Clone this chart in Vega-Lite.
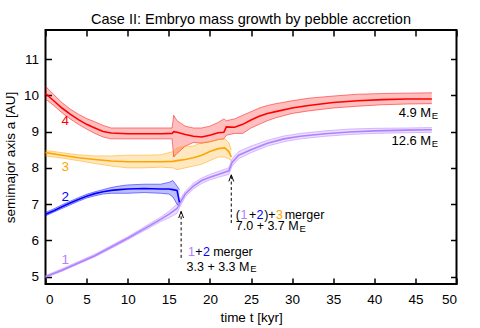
{
 "$schema": "https://vega.github.io/schema/vega-lite/v6.json",
 "width": 411,
 "height": 254,
 "autosize": {"type": "none"},
 "padding": {"left": 45.5, "top": 30, "right": 23.5, "bottom": 44},
 "title": {"text": "Case II: Embryo mass growth by pebble accretion", "font": "Liberation Sans", "fontSize": 14.5, "fontWeight": "normal", "offset": 2, "anchor": "middle", "color": "#000"},
 "config": {
  "view": {"stroke": "#000", "strokeWidth": 2},
  "font": "Liberation Sans",
  "axis": {"grid": false, "domain": false, "tickColor": "#000", "tickWidth": 1.5, "tickSize": -6, "labelFont": "Liberation Sans", "labelFontSize": 13.5, "labelColor": "#000", "titleFont": "Liberation Sans", "titleFontSize": 13.5, "titleFontWeight": "normal", "titleColor": "#000"}
 },
 "datasets": {
  "bands": [
   {"e":"1","t":0,"a":5.0,"lo":4.98,"hi":5.03},
   {"e":"1","t":2,"a":5.18,"lo":5.15,"hi":5.22},
   {"e":"1","t":4,"a":5.38,"lo":5.35,"hi":5.42},
   {"e":"1","t":6,"a":5.58,"lo":5.55,"hi":5.62},
   {"e":"1","t":8,"a":5.82,"lo":5.78,"hi":5.86},
   {"e":"1","t":10,"a":6.06,"lo":6.02,"hi":6.1},
   {"e":"1","t":12,"a":6.32,"lo":6.27,"hi":6.37},
   {"e":"1","t":14,"a":6.58,"lo":6.52,"hi":6.64},
   {"e":"1","t":15,"a":6.72,"lo":6.62,"hi":6.8},
   {"e":"1","t":16,"a":6.88,"lo":6.75,"hi":7.0},
   {"e":"1","t":16.4,"a":7.05,"lo":6.95,"hi":7.15},
   {"e":"1","t":17,"a":7.28,"lo":7.2,"hi":7.35},
   {"e":"1","t":18,"a":7.5,"lo":7.42,"hi":7.58},
   {"e":"1","t":19,"a":7.65,"lo":7.57,"hi":7.72},
   {"e":"1","t":20,"a":7.74,"lo":7.67,"hi":7.82},
   {"e":"1","t":21,"a":7.82,"lo":7.74,"hi":7.9},
   {"e":"1","t":22.3,"a":7.92,"lo":7.82,"hi":8.0},
   {"e":"1","t":22.7,"a":8.15,"lo":8.05,"hi":8.25},
   {"e":"1","t":23.5,"a":8.35,"lo":8.25,"hi":8.45},
   {"e":"1","t":25,"a":8.5,"lo":8.42,"hi":8.6},
   {"e":"1","t":27,"a":8.68,"lo":8.6,"hi":8.76},
   {"e":"1","t":29,"a":8.8,"lo":8.72,"hi":8.88},
   {"e":"1","t":31,"a":8.87,"lo":8.8,"hi":8.95},
   {"e":"1","t":34,"a":8.94,"lo":8.87,"hi":9.02},
   {"e":"1","t":37,"a":8.99,"lo":8.92,"hi":9.07},
   {"e":"1","t":40,"a":9.02,"lo":8.95,"hi":9.09},
   {"e":"1","t":44,"a":9.04,"lo":8.97,"hi":9.1},
   {"e":"1","t":47,"a":9.05,"lo":8.98,"hi":9.11},
   {"e":"2","t":0,"a":6.72,"lo":6.68,"hi":6.77},
   {"e":"2","t":1,"a":6.82,"lo":6.78,"hi":6.87},
   {"e":"2","t":2,"a":6.93,"lo":6.88,"hi":6.98},
   {"e":"2","t":3,"a":7.03,"lo":6.98,"hi":7.08},
   {"e":"2","t":4,"a":7.13,"lo":7.08,"hi":7.18},
   {"e":"2","t":5,"a":7.22,"lo":7.17,"hi":7.27},
   {"e":"2","t":6,"a":7.29,"lo":7.23,"hi":7.34},
   {"e":"2","t":7,"a":7.34,"lo":7.28,"hi":7.4},
   {"e":"2","t":8,"a":7.38,"lo":7.3,"hi":7.46},
   {"e":"2","t":9,"a":7.4,"lo":7.3,"hi":7.5},
   {"e":"2","t":10,"a":7.42,"lo":7.3,"hi":7.53},
   {"e":"2","t":12,"a":7.43,"lo":7.32,"hi":7.55},
   {"e":"2","t":14,"a":7.42,"lo":7.3,"hi":7.55},
   {"e":"2","t":15,"a":7.42,"lo":7.28,"hi":7.6},
   {"e":"2","t":15.5,"a":7.4,"lo":7.2,"hi":7.65},
   {"e":"2","t":16,"a":7.38,"lo":7.0,"hi":7.5},
   {"e":"2","t":16.3,"a":7.05,"lo":6.95,"hi":7.4},
   {"e":"3","t":0,"a":8.42,"lo":8.33,"hi":8.48},
   {"e":"3","t":2,"a":8.35,"lo":8.27,"hi":8.42},
   {"e":"3","t":4,"a":8.28,"lo":8.2,"hi":8.36},
   {"e":"3","t":6,"a":8.23,"lo":8.12,"hi":8.33},
   {"e":"3","t":8,"a":8.19,"lo":8.05,"hi":8.33},
   {"e":"3","t":10,"a":8.17,"lo":8.0,"hi":8.35},
   {"e":"3","t":12,"a":8.17,"lo":8.0,"hi":8.35},
   {"e":"3","t":14,"a":8.17,"lo":8.02,"hi":8.36},
   {"e":"3","t":15.5,"a":8.18,"lo":8.0,"hi":8.45},
   {"e":"3","t":16,"a":8.2,"lo":7.95,"hi":8.55},
   {"e":"3","t":17,"a":8.23,"lo":8.0,"hi":8.6},
   {"e":"3","t":18,"a":8.28,"lo":8.05,"hi":8.6},
   {"e":"3","t":19,"a":8.35,"lo":8.1,"hi":8.7},
   {"e":"3","t":20,"a":8.45,"lo":8.2,"hi":8.72},
   {"e":"3","t":21,"a":8.53,"lo":8.3,"hi":8.78},
   {"e":"3","t":21.8,"a":8.55,"lo":8.3,"hi":8.8},
   {"e":"3","t":22.3,"a":8.45,"lo":8.25,"hi":8.7},
   {"e":"3","t":22.6,"a":8.3,"lo":8.2,"hi":8.5},
   {"e":"4","t":0,"a":10.05,"lo":9.9,"hi":10.25},
   {"e":"4","t":1,"a":9.85,"lo":9.72,"hi":10.02},
   {"e":"4","t":2,"a":9.65,"lo":9.52,"hi":9.8},
   {"e":"4","t":3,"a":9.48,"lo":9.35,"hi":9.62},
   {"e":"4","t":4,"a":9.33,"lo":9.2,"hi":9.48},
   {"e":"4","t":5,"a":9.2,"lo":9.07,"hi":9.36},
   {"e":"4","t":6,"a":9.1,"lo":8.95,"hi":9.27},
   {"e":"4","t":7,"a":9.0,"lo":8.85,"hi":9.17},
   {"e":"4","t":8,"a":8.96,"lo":8.8,"hi":9.1},
   {"e":"4","t":10,"a":8.94,"lo":8.8,"hi":9.1},
   {"e":"4","t":12,"a":8.94,"lo":8.8,"hi":9.1},
   {"e":"4","t":14,"a":8.94,"lo":8.8,"hi":9.1},
   {"e":"4","t":15.4,"a":8.95,"lo":8.8,"hi":9.1},
   {"e":"4","t":15.6,"a":9.0,"lo":8.3,"hi":9.45},
   {"e":"4","t":16,"a":8.98,"lo":8.4,"hi":9.3},
   {"e":"4","t":17,"a":8.92,"lo":8.6,"hi":9.15},
   {"e":"4","t":18,"a":8.87,"lo":8.7,"hi":9.1},
   {"e":"4","t":19,"a":8.85,"lo":8.68,"hi":9.1},
   {"e":"4","t":20,"a":8.9,"lo":8.72,"hi":9.15},
   {"e":"4","t":21,"a":8.97,"lo":8.78,"hi":9.25},
   {"e":"4","t":21.7,"a":8.98,"lo":8.8,"hi":9.35},
   {"e":"4","t":22,"a":9.13,"lo":8.9,"hi":9.3},
   {"e":"4","t":23,"a":9.12,"lo":8.95,"hi":9.35},
   {"e":"4","t":24,"a":9.2,"lo":8.95,"hi":9.45},
   {"e":"4","t":25,"a":9.32,"lo":9.1,"hi":9.55},
   {"e":"4","t":26,"a":9.42,"lo":9.2,"hi":9.65},
   {"e":"4","t":27,"a":9.5,"lo":9.3,"hi":9.72},
   {"e":"4","t":28,"a":9.55,"lo":9.38,"hi":9.77},
   {"e":"4","t":30,"a":9.65,"lo":9.5,"hi":9.85},
   {"e":"4","t":32,"a":9.72,"lo":9.57,"hi":9.92},
   {"e":"4","t":35,"a":9.8,"lo":9.65,"hi":9.98},
   {"e":"4","t":38,"a":9.85,"lo":9.7,"hi":10.03},
   {"e":"4","t":41,"a":9.88,"lo":9.74,"hi":10.05},
   {"e":"4","t":44,"a":9.9,"lo":9.76,"hi":10.06},
   {"e":"4","t":47,"a":9.9,"lo":9.77,"hi":10.07}
  ],
  "numbers": [
   {"e":"1","text":"1","t":2.4,"a":5.45},
   {"e":"2","text":"2","t":2.4,"a":7.2},
   {"e":"3","text":"3","t":2.4,"a":8.03},
   {"e":"4","text":"4","t":2.4,"a":9.28}
  ],
  "notes": [
   {"e":"1","text":"1","t":17.35,"a":5.68},
   {"e":"k","text":"+","t":18.23,"a":5.68},
   {"e":"2","text":"2","t":19.15,"a":5.68},
   {"e":"k","text":"merger","t":20.4,"a":5.68},
   {"e":"k","text":"3.3 + 3.3 M","t":17.16,"a":5.28},
   {"e":"k","text":"(","t":23.15,"a":6.7},
   {"e":"1","text":"1","t":23.72,"a":6.7},
   {"e":"k","text":"+","t":24.75,"a":6.7},
   {"e":"2","text":"2","t":25.68,"a":6.7},
   {"e":"k","text":")+","t":26.6,"a":6.7},
   {"e":"3","text":"3","t":28.05,"a":6.7},
   {"e":"k","text":"merger","t":29.1,"a":6.7},
   {"e":"k","text":"7.0 + 3.7 M","t":23.15,"a":6.39}
  ],
  "rnotes": [
   {"e":"k","text":"4.9 M","t":46.92,"a":9.52},
   {"e":"k","text":"12.6 M","t":46.92,"a":8.73}
  ],
  "subs": [
   {"e":"k","text":"E","t":24.9,"a":5.2},
   {"e":"k","text":"E","t":30.9,"a":6.31},
   {"e":"k","text":"E","t":47.0,"a":9.44},
   {"e":"k","text":"E","t":47.0,"a":8.65}
  ],
  "arrows": [
   {"t":16.5,"a0":5.52,"a1":6.8},
   {"t":22.6,"a0":6.48,"a1":7.81}
  ]
 },
 "layer": [
  {
   "data": {"name": "bands"},
   "mark": {"type": "area", "opacity": 0.25},
   "encoding": {
    "x": {"field": "t", "type": "quantitative", "scale": {"domain": [0, 50], "nice": false}, "axis": {"orient": "bottom", "values": [0,5,10,15,20,25,30,35,40,45,50], "title": "time t [kyr]", "labelPadding": 14, "titlePadding": 5}},
    "y": {"field": "lo", "type": "quantitative", "scale": {"domain": [4.8, 11.8], "nice": false}, "axis": {"orient": "left", "values": [5,6,7,8,9,10,11], "title": "semimajor axis a [AU]", "labelPadding": 13, "titlePadding": 6}},
    "y2": {"field": "hi"},
    "color": {"field": "e", "type": "nominal", "scale": {"domain": ["1","2","3","4","k"], "range": ["#b080ff","#0000ff","#ffa500","#ff0000","#000000"]}, "legend": null}
   }
  },
  {
   "data": {"name": "bands"},
   "mark": {"type": "line", "strokeWidth": 0.7, "opacity": 0.7},
   "encoding": {
    "x": {"field": "t", "type": "quantitative", "axis": {"orient": "top", "values": [0,5,10,15,20,25,30,35,40,45,50], "labels": false, "title": null}},
    "y": {"field": "lo", "type": "quantitative", "axis": {"orient": "right", "values": [5,6,7,8,9,10,11], "labels": false, "title": null}},
    "color": {"field": "e", "type": "nominal", "legend": null}
   }
  },
  {
   "data": {"name": "bands"},
   "mark": {"type": "line", "strokeWidth": 0.7, "opacity": 0.7},
   "encoding": {
    "x": {"field": "t", "type": "quantitative", "axis": null},
    "y": {"field": "hi", "type": "quantitative", "axis": null},
    "color": {"field": "e", "type": "nominal", "legend": null}
   }
  },
  {
   "data": {"name": "bands"},
   "mark": {"type": "line", "strokeWidth": 1.6},
   "encoding": {
    "x": {"field": "t", "type": "quantitative", "axis": null},
    "y": {"field": "a", "type": "quantitative", "axis": null},
    "color": {"field": "e", "type": "nominal", "legend": null}
   }
  },
  {
   "data": {"name": "numbers"},
   "mark": {"type": "text", "fontSize": 13.5, "align": "center", "baseline": "middle"},
   "encoding": {
    "x": {"field": "t", "type": "quantitative", "axis": null},
    "y": {"field": "a", "type": "quantitative", "axis": null},
    "text": {"field": "text"},
    "color": {"field": "e", "type": "nominal", "legend": null}
   }
  },
  {
   "data": {"name": "notes"},
   "mark": {"type": "text", "fontSize": 12.5, "align": "left", "baseline": "middle"},
   "encoding": {
    "x": {"field": "t", "type": "quantitative", "axis": null},
    "y": {"field": "a", "type": "quantitative", "axis": null},
    "text": {"field": "text"},
    "color": {"field": "e", "type": "nominal", "legend": null}
   }
  },
  {
   "data": {"name": "rnotes"},
   "mark": {"type": "text", "fontSize": 13, "align": "right", "baseline": "middle"},
   "encoding": {
    "x": {"field": "t", "type": "quantitative", "axis": null},
    "y": {"field": "a", "type": "quantitative", "axis": null},
    "text": {"field": "text"},
    "color": {"field": "e", "type": "nominal", "legend": null}
   }
  },
  {
   "data": {"name": "subs"},
   "mark": {"type": "text", "fontSize": 9.5, "align": "left", "baseline": "middle"},
   "encoding": {
    "x": {"field": "t", "type": "quantitative", "axis": null},
    "y": {"field": "a", "type": "quantitative", "axis": null},
    "text": {"field": "text"},
    "color": {"field": "e", "type": "nominal", "legend": null}
   }
  },
  {
   "data": {"name": "arrows"},
   "mark": {"type": "rule", "strokeDash": [3, 2.5], "strokeWidth": 1, "color": "#000"},
   "encoding": {
    "x": {"field": "t", "type": "quantitative", "axis": null},
    "y": {"field": "a0", "type": "quantitative", "axis": null},
    "y2": {"field": "a1"}
   }
  },
  {
   "data": {"name": "arrows"},
   "mark": {"type": "point", "shape": "M-0.8,2.2L0,0L0.8,2.2", "size": 36, "filled": false, "stroke": "#000", "strokeWidth": 1, "opacity": 1},
   "encoding": {
    "x": {"field": "t", "type": "quantitative", "axis": null},
    "y": {"field": "a1", "type": "quantitative", "axis": null}
   }
  }
 ],
 "resolve": {"axis": {"x": "independent", "y": "independent"}}
}
